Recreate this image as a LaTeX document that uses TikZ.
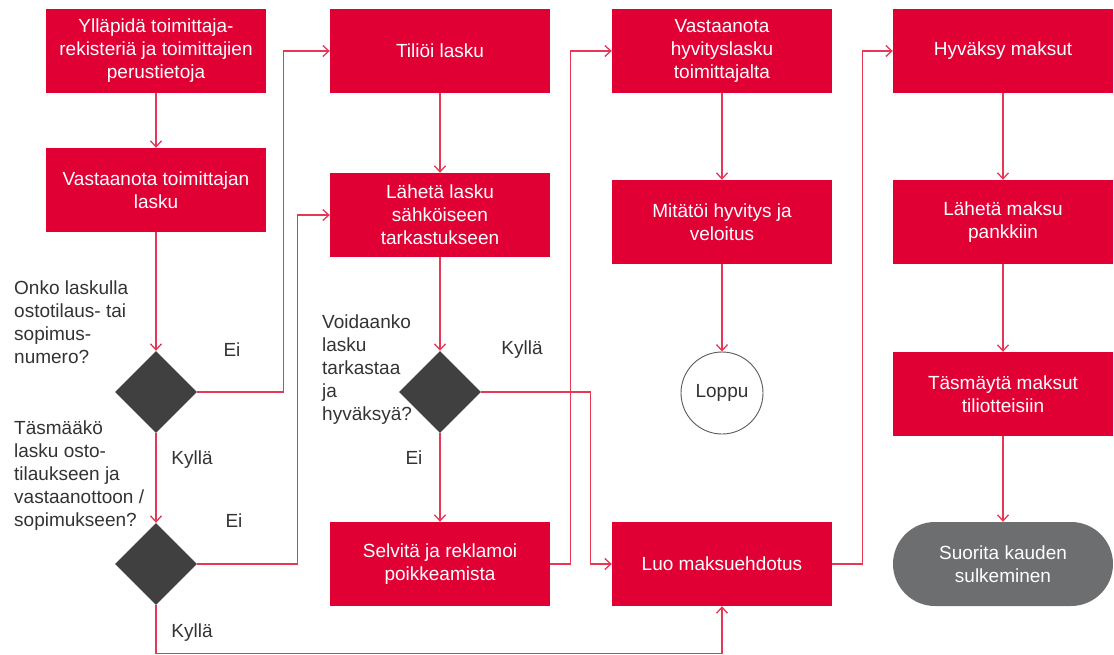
\documentclass[tikz,border=0pt]{standalone}
\usepackage{fontspec}
\setmainfont{Liberation Sans}
\usetikzlibrary{arrows.meta,shapes.geometric,calc}
\definecolor{boxred}{RGB}{224,0,52}
\definecolor{linered}{RGB}{230,55,85}
\definecolor{dia}{RGB}{64,64,64}
\definecolor{endgray}{RGB}{109,110,112}
\definecolor{txt}{RGB}{51,51,51}
\definecolor{ringgray}{RGB}{90,90,90}
\begin{document}
\begin{tikzpicture}[x=1pt,y=-1pt,
 proc/.style={rectangle, fill=boxred, text=white, minimum width=220pt, minimum height=84pt, align=center, font=\fontsize{19}{23}\selectfont, inner sep=0pt},
 dec/.style={diamond, fill=dia, minimum width=82pt, minimum height=82pt, inner sep=0pt},
 conn/.style={draw=linered, line width=1.3pt, -{Straight Barb[length=6pt,width=11pt]}},
 q/.style={text=txt, align=left, font=\fontsize{19}{23}\selectfont, anchor=west, inner sep=0pt},
 lbl/.style={text=txt, font=\fontsize{19}{23}\selectfont, inner sep=0pt}]
\path[use as bounding box] (0,0) rectangle (1114,655);
% column 1
\node[proc] (a1) at (156,51) {Ylläpidä toimittaja-\\rekisteriä ja toimittajien\\perustietoja};
\node[proc] (a2) at (156,190) {Vastaanota toimittajan\\lasku};
\node[dec] (d1) at (156,392) {};
\node[dec] (d2) at (156,564) {};
% column 2
\node[proc] (b1) at (440,51) {Tiliöi lasku};
\node[proc] (b2) at (440,215) {Lähetä lasku\\sähköiseen\\tarkastukseen};
\node[dec] (d3) at (440,392) {};
\node[proc] (b3) at (440,564) {Selvitä ja reklamoi\\poikkeamista};
% column 3
\node[proc] (c1) at (722,51) {Vastaanota\\hyvityslasku\\toimittajalta};
\node[proc] (c2) at (722,222) {Mitätöi hyvitys ja\\veloitus};
\node[circle, draw=ringgray, fill=white, minimum size=82pt, inner sep=0pt, line width=0.9pt, text=txt, font=\fontsize{19}{23}\selectfont] (c3) at (722,393) {Loppu};
\node[proc] (c4) at (722,564) {Luo maksuehdotus};
% column 4
\node[proc] (e1) at (1003,51) {Hyväksy maksut};
\node[proc] (e2) at (1003,222) {Lähetä maksu\\pankkiin};
\node[proc] (e3) at (1003,394) {Täsmäytä maksut\\tiliotteisiin};
\node[proc, fill=endgray, rounded corners=42pt] (e4) at (1003,564) {Suorita kauden\\sulkeminen};
% questions and labels
\node[q] (q1) at (14,322) {Onko laskulla\\ostotilaus- tai\\sopimus-\\numero?};
\node[q] (q2) at (14,476) {Täsmääkö\\lasku osto-\\tilaukseen ja\\vastaanottoon /\\sopimukseen?};
\node[q] (q3) at (322,370) {Voidaanko\\lasku\\tarkastaa\\ja\\hyväksyä?};
\node[lbl] (l1) at (232,350) {Ei};
\node[lbl] (l2) at (192,460) {Kyllä};
\node[lbl] (l3) at (234,521) {Ei};
\node[lbl] (l4) at (192,633) {Kyllä};
\node[lbl] (l5) at (522,350) {Kyllä};
\node[lbl] (l6) at (414,458) {Ei};
% connectors
\draw[conn] (a1) -- (a2);
\draw[conn] (a2) -- (d1);
\draw[conn] (d1) -- (d2);
\draw[conn] (d1.east) -- ++(86,0) |- (b1.west);
\draw[conn] (d2.east) -- ++(100,0) |- (b2.west);
\draw[conn] (d2.south) -- ++(0,48) -| (c4.south);
\draw[conn] (b1) -- (b2);
\draw[conn] (b2) -- (d3);
\draw[conn] (d3) -- (b3);
\draw[conn] (d3.east) -- ++(109,0) |- (c4.west);
\draw[conn] (b3.east) -- ++(20,0) |- (c1.west);
\draw[conn] (c1) -- (c2);
\draw[conn] (c2) -- (c3);
\draw[conn] (c4.east) -- ++(30,0) |- (e1.west);
\draw[conn] (e1) -- (e2);
\draw[conn] (e2) -- (e3);
\draw[conn] (e3) -- (e4);
\end{tikzpicture}
\end{document}
